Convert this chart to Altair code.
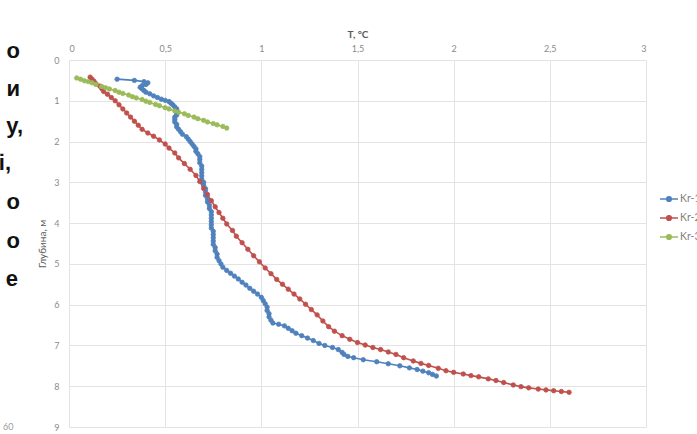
import altair as alt
import pandas as pd

series_names = ["Kr-1", "Kr-2", "Kr-3"]
colors = ["#4F81BD", "#C0504D", "#9BBB59"]

kr1_t = [0.25, 0.34, 0.39, 0.41, 0.40, 0.38, 0.37, 0.38, 0.39, 0.40, 0.42, 0.44, 0.46, 0.48, 0.50,
         0.52, 0.53, 0.54, 0.55, 0.56, 0.56, 0.56, 0.56, 0.55, 0.55, 0.55, 0.56, 0.56, 0.57, 0.58,
         0.59, 0.61, 0.62, 0.63, 0.64, 0.65, 0.66, 0.66, 0.67, 0.68, 0.68, 0.68, 0.69, 0.69, 0.69,
         0.69, 0.69, 0.70, 0.70, 0.71, 0.71, 0.71, 0.72, 0.72, 0.73, 0.73, 0.74, 0.74, 0.74, 0.74,
         0.74, 0.74, 0.75, 0.75, 0.75, 0.75, 0.75, 0.76, 0.76, 0.77, 0.77, 0.78, 0.79, 0.80, 0.82,
         0.84, 0.86, 0.88, 0.90, 0.92, 0.94, 0.96, 0.98, 1.00, 1.01, 1.02, 1.03, 1.03, 1.04, 1.04,
         1.05, 1.06, 1.09, 1.12, 1.14, 1.16, 1.18, 1.21, 1.24, 1.27, 1.30, 1.33, 1.37, 1.40, 1.42,
         1.43, 1.45, 1.48, 1.53, 1.60, 1.66, 1.72, 1.77, 1.81, 1.84, 1.87, 1.89, 1.91]
kr1_d = [0.47, 0.50, 0.53, 0.56, 0.60, 0.63, 0.67, 0.71, 0.75, 0.79, 0.83, 0.88, 0.92, 0.96, 0.99,
         1.02, 1.06, 1.10, 1.15, 1.20, 1.25, 1.30, 1.35, 1.40, 1.46, 1.52, 1.58, 1.64, 1.70, 1.76,
         1.82, 1.88, 1.94, 2.00, 2.06, 2.12, 2.18, 2.24, 2.30, 2.37, 2.44, 2.52, 2.60, 2.68, 2.76,
         2.84, 2.92, 3.00, 3.08, 3.16, 3.24, 3.32, 3.40, 3.48, 3.56, 3.64, 3.72, 3.80, 3.88, 3.96,
         4.04, 4.12, 4.20, 4.28, 4.36, 4.44, 4.52, 4.60, 4.68, 4.76, 4.84, 4.92, 5.00, 5.08, 5.16,
         5.23, 5.30, 5.37, 5.45, 5.52, 5.60, 5.67, 5.74, 5.82, 5.90, 5.98, 6.06, 6.14, 6.22, 6.30,
         6.38, 6.45, 6.48, 6.52, 6.58, 6.64, 6.70, 6.76, 6.82, 6.88, 6.95, 7.00, 7.05, 7.10, 7.17,
         7.22, 7.27, 7.30, 7.35, 7.40, 7.45, 7.50, 7.55, 7.59, 7.63, 7.67, 7.71, 7.75]

kr2_t = [0.11, 0.12, 0.13, 0.14, 0.16, 0.17, 0.18, 0.20, 0.22, 0.24, 0.26, 0.28, 0.30, 0.32, 0.34,
         0.36, 0.38, 0.41, 0.44, 0.47, 0.50, 0.52, 0.55, 0.57, 0.60, 0.63, 0.66, 0.68, 0.70, 0.72,
         0.74, 0.76, 0.78, 0.80, 0.82, 0.85, 0.87, 0.90, 0.93, 0.96, 0.99, 1.02, 1.05, 1.08, 1.11,
         1.14, 1.17, 1.20, 1.23, 1.26, 1.29, 1.32, 1.35, 1.38, 1.42, 1.46, 1.50, 1.54, 1.58, 1.62,
         1.66, 1.70, 1.74, 1.79, 1.83, 1.87, 1.92, 1.96, 2.00, 2.05, 2.09, 2.13, 2.18, 2.22, 2.26,
         2.31, 2.35, 2.39, 2.44, 2.48, 2.52, 2.56, 2.60]
kr2_d = [0.42, 0.47, 0.52, 0.58, 0.64, 0.70, 0.77, 0.84, 0.92, 1.00, 1.10, 1.20, 1.30, 1.40, 1.50,
         1.60, 1.70, 1.79, 1.87, 1.96, 2.06, 2.16, 2.28, 2.40, 2.54, 2.68, 2.83, 2.98, 3.15, 3.30,
         3.45, 3.60, 3.74, 3.88, 4.02, 4.18, 4.32, 4.48, 4.64, 4.80, 4.95, 5.10, 5.24, 5.38, 5.50,
         5.62, 5.74, 5.86, 5.99, 6.12, 6.25, 6.40, 6.54, 6.65, 6.76, 6.85, 6.93, 6.99, 7.05, 7.10,
         7.16, 7.22, 7.30, 7.38, 7.44, 7.49, 7.56, 7.62, 7.66, 7.70, 7.74, 7.77, 7.82, 7.86, 7.91,
         7.97, 8.01, 8.04, 8.07, 8.09, 8.11, 8.13, 8.15]

kr3_t = [0.04, 0.06, 0.08, 0.10, 0.12, 0.14, 0.17, 0.19, 0.21, 0.24, 0.26, 0.28, 0.31, 0.33, 0.35,
         0.38, 0.40, 0.42, 0.45, 0.47, 0.50, 0.52, 0.55, 0.57, 0.60, 0.62, 0.65, 0.67, 0.70, 0.72,
         0.75, 0.77, 0.80, 0.82]
kr3_d = [0.44, 0.47, 0.51, 0.53, 0.56, 0.60, 0.65, 0.68, 0.71, 0.75, 0.79, 0.82, 0.86, 0.90, 0.93,
         0.97, 1.01, 1.04, 1.09, 1.12, 1.17, 1.20, 1.25, 1.28, 1.32, 1.36, 1.40, 1.44, 1.48, 1.52,
         1.56, 1.59, 1.63, 1.67]

x_ticks = [0, 0.5, 1, 1.5, 2, 2.5, 3]
y_ticks = [0, 1, 2, 3, 4, 5, 6, 7, 8, 9]

rows = []
for name, ts, ds in zip(series_names, [kr1_t, kr2_t, kr3_t], [kr1_d, kr2_d, kr3_d]):
    for i, (t, d) in enumerate(zip(ts, ds)):
        rows.append({"series": name, "idx": i, "T": t, "depth": d})
df = pd.DataFrame(rows)

FONT = "Lato"
legend_path = "M-1,0L1,0M-0.27,0A0.27,0.27 0 1,0 0.27,0A0.27,0.27 0 1,0 -0.27,0Z"

color_scale = alt.Scale(domain=series_names, range=colors)

x_enc = alt.X("T:Q", scale=alt.Scale(domain=[0, 3], nice=False),
              axis=alt.Axis(orient="top", values=x_ticks, title="T, °C",
                            labelExpr="replace(format(datum.value, '~g'), '.', ',')"))
y_enc = alt.Y("depth:Q", scale=alt.Scale(domain=[0, 9], reverse=True, nice=False),
              axis=alt.Axis(values=y_ticks, title="Глубина, м"))

legend = alt.Legend(title=None, orient="none", legendX=590, legendY=129,
                    symbolType=legend_path, symbolSize=324,
                    symbolStrokeWidth=1.3, rowPadding=3, labelOffset=1,
                    labelFontSize=10.5, labelColor="#7f7f7f", labelFont=FONT, padding=0)

lines = alt.Chart(df).mark_line(strokeWidth=1.6).encode(
    x=x_enc, y=y_enc,
    stroke=alt.Stroke("series:N", scale=color_scale, legend=legend),
    detail="series:N",
    order="idx:Q",
)
points = alt.Chart(df).mark_point(size=20, filled=True, opacity=1, strokeWidth=0.8,
                                  shape="circle").encode(
    x="T:Q", y="depth:Q",
    fill=alt.Fill("series:N", scale=color_scale, legend=legend),
    stroke=alt.Stroke("series:N", scale=color_scale, legend=legend),
)

letters = [("о", 20, 58), ("и", 20, 96), ("у,", 23, 133), ("і,", 11, 170),
           ("о", 20, 209), ("о", 20, 248), ("е", 18, 286)]
text_layers = []
for s, px, py in letters:
    text_layers.append(
        alt.Chart(df).transform_filter("datum.idx == 0 && datum.series == 'Kr-1'")
        .mark_text(text=s, align="right", baseline="alphabetic", font="Liberation Sans",
                   fontWeight="bold", fontSize=22, color="#111111")
        .encode(x=alt.value(px - 69), y=alt.value(py - 60))
    )
text_layers.append(
    alt.Chart(df).transform_filter("datum.idx == 0 && datum.series == 'Kr-1'")
    .mark_text(text="60", align="left", baseline="middle", font=FONT,
               fontSize=9, color="#9a9a9a")
    .encode(x=alt.value(3 - 69), y=alt.value(427 - 60))
)

chart = alt.layer(lines, points, *text_layers).properties(
    width=577, height=367,
    autosize=alt.AutoSizeParams(type="none"),
    padding={"left": 69, "top": 60, "right": 51, "bottom": 7},
).configure_view(strokeWidth=0).configure_axis(
    grid=True, gridColor="#e3e3e3", gridWidth=1, domain=False, ticks=False,
    labelFont=FONT, labelFontSize=9, labelColor="#8a8a8a",
    titleFont=FONT, titleFontSize=10, titleColor="#595959", titleFontWeight="bold",
).configure_axisX(
    labelPadding=7, titlePadding=5,
).configure_axisY(
    labelPadding=10, titlePadding=6, titleFontWeight="normal",
)

chart.save("out.html", embed_options={"renderer": "svg", "actions": False})
